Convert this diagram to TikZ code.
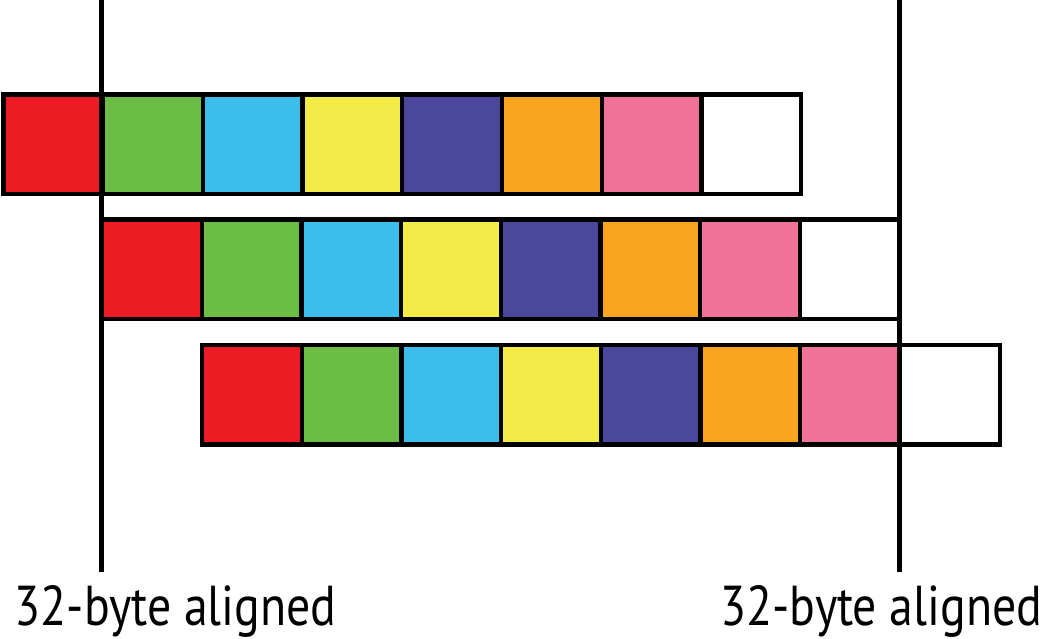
\documentclass[tikz,border=0pt]{standalone}
\usepackage{fontspec}
\setmainfont{PT Sans}[FakeStretch=0.85]
\definecolor{cred}{HTML}{ED1C24}
\definecolor{cgreen}{HTML}{6CBD45}
\definecolor{ccyan}{HTML}{3BBEEC}
\definecolor{cyellow}{HTML}{F2EB48}
\definecolor{cpurple}{HTML}{4B479C}
\definecolor{corange}{HTML}{F9A51F}
\definecolor{cpink}{HTML}{F07299}
\tikzset{
  cell/.style={draw, line width=1.2pt, minimum width=0.997cm, minimum height=0.995cm,
    inner sep=0pt, outer sep=0pt, anchor=north west},
  bound/.style={line width=1.2pt},
  lbl/.style={inner sep=0pt, font=\fontsize{16}{19}\selectfont}
}
\begin{document}
\begin{tikzpicture}
    \useasboundingbox (0,0) rectangle (10.46,6.39);
    \coordinate (a1) at (1.015,6.39);
    \coordinate (a2) at (1.015,0.67);
    \coordinate (b1) at (8.995,6.39);
    \coordinate (b2) at (8.995,0.67);
    \foreach \r/\x/\y in {1/0.035/5.445, 2/1.02/4.195, 3/2.02/2.94} {
      \foreach \col [count=\i from 0] in {cred,cgreen,ccyan,cyellow,cpurple,corange,cpink,white}
        \node[cell, fill=\col] (r\r c\i) at (\x+\i*0.997, \y) {};
    }
    \draw[bound] (a1) -- (a2);
    \draw[bound] (b1) -- (b2);
    \node[lbl, anchor=base west] (lblA) at (0.14,0.13) {32-byte aligned};
    \node[lbl, anchor=base east] (lblB) at (10.43,0.13) {32-byte aligned};
\end{tikzpicture}
\end{document}
